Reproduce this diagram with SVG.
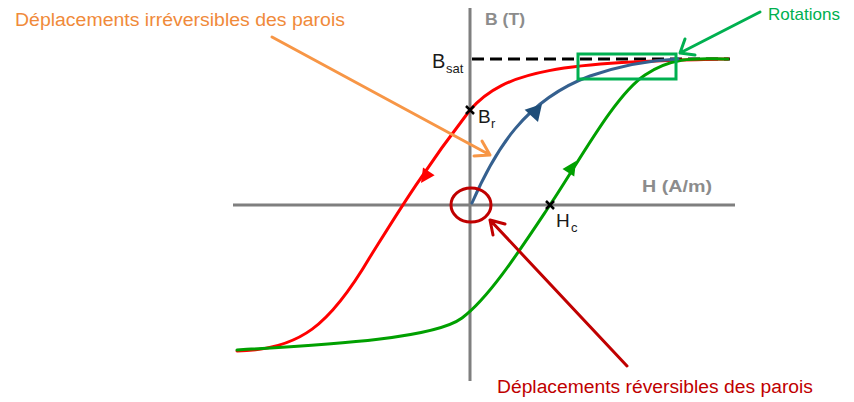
<svg xmlns="http://www.w3.org/2000/svg" width="854" height="402" viewBox="0 0 854 402">
<style>
.axis{stroke:#7f7f7f;stroke-width:3;fill:none}
.curve{fill:none;stroke-width:3;stroke-linecap:round}
.lbl{font-family:"Liberation Sans",Arial,sans-serif}
.axl{font-family:"Liberation Sans",Arial,sans-serif;font-weight:bold;font-size:17px;fill:#8c8c8c}
.sym{font-family:"Liberation Sans",Arial,sans-serif;fill:#1a1a1a}
.xm{stroke:#000;stroke-width:2.5}
</style>
<rect width="854" height="402" fill="#fff"/>
<g id="axes">
<line class="axis" x1="470" y1="8" x2="470" y2="381"/>
<line class="axis" x1="233" y1="205" x2="735" y2="205"/>
<text class="axl" x="485" y="25" textLength="40" lengthAdjust="spacingAndGlyphs">B (T)</text>
<text class="axl" x="642" y="192" textLength="70" lengthAdjust="spacingAndGlyphs">H (A/m)</text>
</g>
<g id="bsat">
<line x1="472" y1="59" x2="730" y2="59" stroke="#000" stroke-width="3" stroke-dasharray="12,6"/>
<text class="sym" x="432" y="68" font-size="20">B</text>
<text class="sym" x="446" y="73" font-size="13">sat</text>
</g>
<g id="red-curve">
<path class="curve" stroke="#ff0000" d="M237,351 C300,350 330,325 370,257 C392,222 420,175 470,110 C505,70 560,62 728,59"/>
<polygon fill="#ff0000" points="0,0 -14,-7 -14,7" transform="translate(421,183) rotate(124)"/>
</g>
<g id="green-curve">
<path class="curve" stroke="#00a000" d="M237,350 C340,344 435,338 462,318 S520,250 550,205 S615,95 645,75 S700,59 728,59"/>
<polygon fill="#00a000" points="0,0 -14,-7 -14,7" transform="translate(576,161) rotate(-57)"/>
</g>
<g id="blue-curve">
<path class="curve" stroke="#35608f" d="M472,203 C495,150 525,100 590,76 C625,64 655,60 678,59"/>
<polygon fill="#1f4e79" points="0,0 -16,-9 -16,9" transform="translate(542,104) rotate(-48)"/>
</g>
<g id="br">
<path class="xm" d="M466,106 L474,114 M474,106 L466,114"/>
<text class="sym" x="478" y="123" font-size="19">B</text>
<text class="sym" x="491" y="128" font-size="13">r</text>
</g>
<g id="hc">
<path class="xm" d="M546,201 L554,209 M554,201 L546,209"/>
<text class="sym" x="556" y="227" font-size="19">H</text>
<text class="sym" x="571" y="232" font-size="13">c</text>
</g>
<g id="rotations">
<rect x="578" y="54" width="98" height="25" fill="none" stroke="#00b050" stroke-width="3"/>
<text class="lbl" x="768" y="20" font-size="17" fill="#00b050" textLength="72" lengthAdjust="spacingAndGlyphs">Rotations</text>
</g>
<g id="origin">
<ellipse cx="471" cy="205" rx="20" ry="17" fill="none" stroke="#c00000" stroke-width="3"/>
<text class="lbl" x="497" y="393" font-size="18" fill="#c00000" textLength="316" lengthAdjust="spacingAndGlyphs">Déplacements réversibles des parois</text>
</g>
<g id="irrev">
<text class="lbl" x="15" y="26" font-size="18" fill="#f08a3a" textLength="330" lengthAdjust="spacingAndGlyphs">Déplacements irréversibles des parois</text>
</g>
<g id="connectors" fill="none" stroke-width="3" stroke-linecap="round" stroke-linejoin="round">
<path stroke="#f79646" d="M272,37 L490,155 M474,156 L490,155 L482,141"/>
<path stroke="#00b050" d="M760,12 L680,53 M685,39 L680,53 L695,55"/>
<path stroke="#c00000" d="M627,366 L490,220 M493,235 L490,220 L505,224"/>
</g>
</svg>
